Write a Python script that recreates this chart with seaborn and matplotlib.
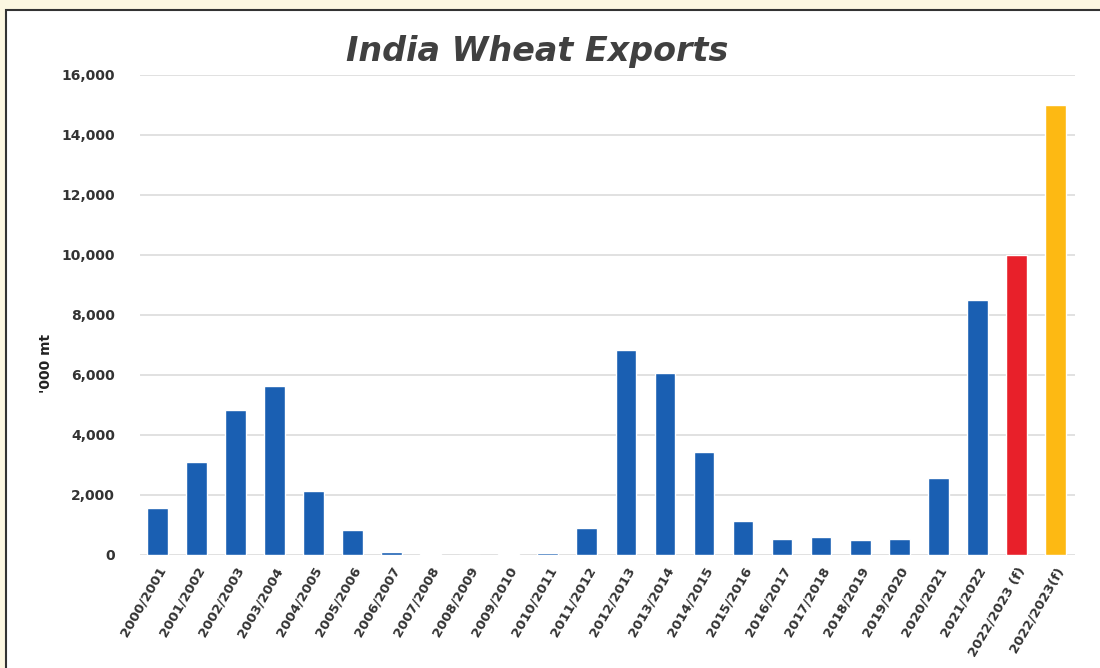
import matplotlib
matplotlib.use("Agg")
import matplotlib.pyplot as plt
import seaborn as sns
import pandas as pd
from matplotlib.patches import Rectangle
from matplotlib.ticker import FuncFormatter

seasons = ["2000/2001", "2001/2002", "2002/2003", "2003/2004", "2004/2005", "2005/2006",
           "2006/2007", "2007/2008", "2008/2009", "2009/2010", "2010/2011", "2011/2012",
           "2012/2013", "2013/2014", "2014/2015", "2015/2016", "2016/2017", "2017/2018",
           "2018/2019", "2019/2020", "2020/2021", "2021/2022", "2022/2023 (f)", "2022/2023(f)"]
exports = [1570, 3100, 4850, 5650, 2130, 820, 100, 30, 0, 40, 60, 900,
           6830, 6060, 3420, 1130, 520, 590, 500, 520, 2570, 8500, 10000, 15000]
bar_colors = ["#1a5fb2"] * 22 + ["#e8202a", "#fdb913"]

sns.set_theme(style="white")
plt.rcParams['font.family'] = ['DejaVu Sans']

fig = plt.figure(figsize=(11, 6.68), dpi=100)
fig.patch.set_facecolor("#fcf7e1")
frame = Rectangle((6 / 1100, -0.05), 1.1, 1 - 10 / 668 + 0.05,
                  transform=fig.transFigure, facecolor="white",
                  edgecolor="#333333", linewidth=1.5, zorder=-10)
fig.add_artist(frame)

ax = fig.add_axes([140 / 1100, 1 - 555 / 668, (1075 - 140) / 1100, (555 - 75) / 668])
ax.set_zorder(5)
ax.set_facecolor("white")

df = pd.DataFrame({"season": seasons, "exports": exports})
sns.barplot(data=df, x="season", y="exports", hue="season", palette=bar_colors,
            legend=False, width=0.53, saturation=1, ax=ax, zorder=3)

ax.set_ylim(0, 16000)
ax.set_xlim(-0.44, 23.5)
ax.set_yticks(range(0, 16001, 2000))
ax.yaxis.set_major_formatter(FuncFormatter(lambda v, p: f"{int(v):,}"))
ax.grid(axis="y", color="#dcdcdc", linewidth=1.2, zorder=0)
ax.set_axisbelow(True)
for s in ax.spines.values():
    s.set_visible(False)
ax.tick_params(axis="both", length=0)
ax.tick_params(axis="y", pad=18, labelsize=10, labelcolor="#333333")
for lab in ax.get_yticklabels():
    lab.set_fontweight("bold")
ax.set_xticks(range(len(seasons)))
ax.set_xticklabels(seasons, rotation=60, ha="right", rotation_mode="anchor",
                   fontsize=9.5, color="#333333", fontweight="bold")
ax.tick_params(axis="x", pad=7)
ax.set_xlabel("")
ax.set_ylabel("'000 mt", fontsize=10, color="#222222", fontweight="bold")
ax.yaxis.set_label_coords(-0.093, 0.4)

fig.text(537 / 1100, 1 - 52 / 668, "India Wheat Exports", ha="center", va="center",
         fontsize=24, fontweight="bold", fontstyle="italic", color="#404040", zorder=6)

fig.savefig("out.png", dpi=100, facecolor=fig.get_facecolor())
